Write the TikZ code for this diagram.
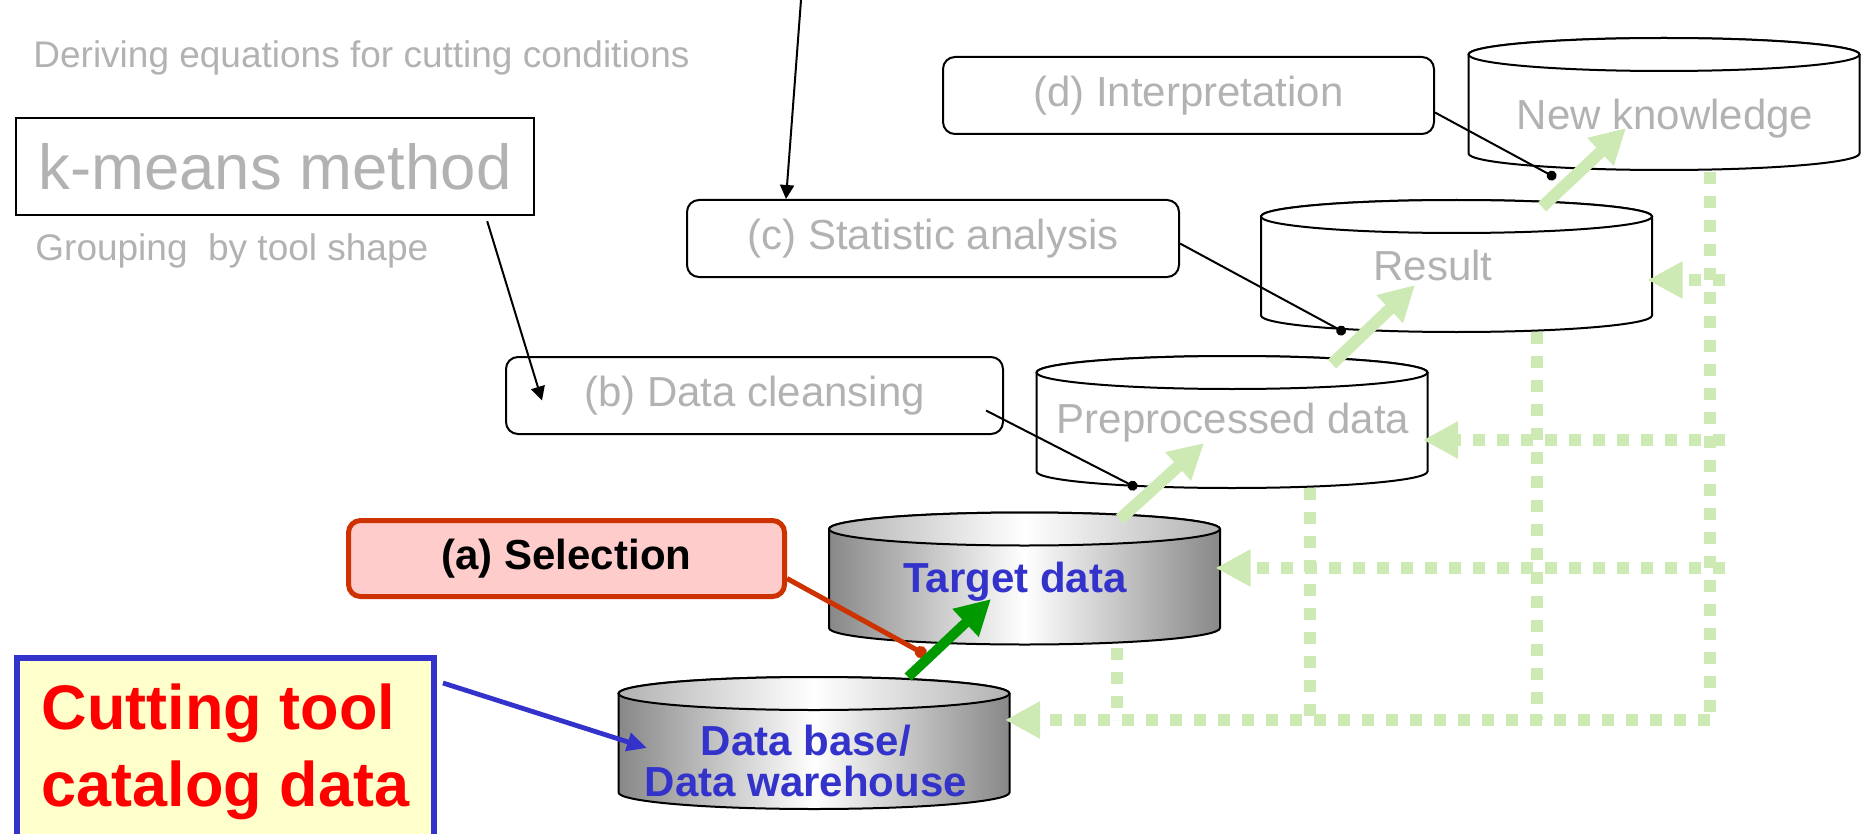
\documentclass[tikz,border=0pt]{standalone}
\usepackage{fontspec}
\setmainfont{Liberation Sans}
\definecolor{fadedgray}{RGB}{178,178,178}
\definecolor{leafgreen}{RGB}{206,234,180}
\definecolor{darkgreen}{RGB}{0,153,0}
\definecolor{rustred}{RGB}{204,51,0}
\definecolor{pinkfill}{RGB}{255,204,204}
\definecolor{inkblue}{RGB}{51,51,204}
\definecolor{creamfill}{RGB}{255,255,204}
\definecolor{cylgray}{RGB}{136,136,136}
\usetikzlibrary{arrows.meta,calc,positioning}

\begin{document}
\begin{tikzpicture}[x=0.5pt, y=-0.5pt,
    faded/.style={text=fadedgray, font=\fontsize{21}{25}\selectfont},
    stepbox/.style={faded, draw, line width=1pt, rounded corners=6pt, minimum height=38.5pt, inner sep=0pt},
    dbnode/.style={minimum width=195.5pt, minimum height=66pt, inner sep=0pt, outer sep=0pt},
    whitebody/.style={draw, line width=1pt, fill=white},
    whitelid/.style={draw, line width=1pt, fill=white},
    greybody/.style={draw, line width=1pt, left color=cylgray, right color=cylgray, middle color=white},
    greylid/.style={draw, line width=1pt, left color=cylgray!65, right color=cylgray!65, middle color=white},
    bluetext/.style={text=inkblue, font=\bfseries\fontsize{21}{20.5}\selectfont},
    pointer/.style={line width=1pt, -{Triangle[length=7pt,width=7pt]}},
    dotline/.style={line width=1pt, -{Circle[length=5pt]}},
    flow/.style={leafgreen, line width=6pt, -{Triangle[length=17.5pt,width=18pt]}},
    loopback/.style={leafgreen, line width=6pt, dash pattern=on 6pt off 6pt}]
    \useasboundingbox (0,0) rectangle (1861,834);

    % Methods on the left
    \node[faded, font=\fontsize{18.5}{22}\selectfont, anchor=base west, inner sep=0pt] (deriving) at (33,68) {Deriving equations for cutting conditions};
    \node[draw, line width=1.2pt, minimum width=259pt, minimum height=48.5pt, inner sep=0pt,
        text=fadedgray, font=\fontsize{31.75}{36}\selectfont] (kmeans) at (275,166.5) {k-means method};
    \node[faded, font=\fontsize{18.5}{22}\selectfont, anchor=base west, inner sep=0pt] (grouping) at (35,260) {Grouping\ \ by tool shape};

    % Steps
    \node[stepbox, minimum width=245.5pt] (interp) at (1188.5,95.5) {(d) Interpretation};
    \node[stepbox, minimum width=246pt] (stat) at (933,238.5) {(c) Statistic analysis};
    \node[stepbox, minimum width=248.5pt] (cleanse) at (754.5,395.5) {(b) Data cleansing};
    \node[draw=rustred, fill=pinkfill, line width=2.5pt, rounded corners=6pt, minimum width=218pt, minimum height=38pt,
        inner sep=0pt, font=\bfseries\fontsize{21}{25}\selectfont] (select) at (566.5,558.5) {(a) Selection};
    \node[draw=inkblue, fill=creamfill, line width=3pt, minimum width=208.5pt, minimum height=94pt, inner sep=0pt,
        text=red, align=left, font=\bfseries\fontsize{31.5}{38.5}\selectfont] (catalog) at (225.5,752) {Cutting tool\\catalog data};

    % Data stores
    \node[dbnode] (newknow) at (1664,104) {};
    \node[dbnode] (result) at (1456.5,266) {};
    \node[dbnode] (prep) at (1232,422) {};
    \node[dbnode] (target) at (1024.5,578.5) {};
    \node[dbnode] (dbase) at (814,743) {};
    \foreach \db/\body/\lid in {newknow/whitebody/whitelid, result/whitebody/whitelid, prep/whitebody/whitelid,
                                target/greybody/greylid, dbase/greybody/greylid} {
        \path[\body] ($(\db.north west)+(0,16.5)$) -- ($(\db.south west)+(0,-16.5)$)
            arc[start angle=180, end angle=360, x radius=97.75pt, y radius=8.25pt]
            -- ($(\db.north east)+(0,16.5)$)
            arc[start angle=0, end angle=180, x radius=97.75pt, y radius=8.25pt] -- cycle;
        \path[\lid] ($(\db.north)+(0,16.5)$) ellipse[x radius=97.75pt, y radius=8.25pt];
    }

    \node[faded] (nklabel) at (1665,119) {New knowledge};
    \node[faded] (resultlabel) at (1433,265) {Result};
    \node[faded] (preplabel) at (1233,423) {Preprocessed data};
    \node[bluetext] (targetlabel) at (1015,582) {Target data};
    \node[bluetext, align=center] (dblabel) at (806,761) {Data base/\\Data warehouse};

    % Feedback paths
    \coordinate (bus1) at (1117,720);
    \coordinate (bus2) at (1310,720);
    \coordinate (bus3) at (1537,720);
    \coordinate (bus4) at (1710,720);
    \coordinate (tap2) at (1725,568);
    \coordinate (tap3) at (1725,440);
    \coordinate (tap4) at (1725,280);
    \draw[loopback] ($(newknow)+(46,68)$) -- (bus4);
    \draw[loopback] ($(result)+(80.5,66)$) -- (bus3);
    \draw[loopback] ($(prep)+(78,66)$) -- (bus2);
    \draw[loopback] ($(target)+(92.5,69.5)$) -- (bus1);
    \draw[loopback, -{Triangle[length=17.5pt,width=17.5pt]}] (bus4) -- ($(dbase)+(191,-23)$);
    \draw[loopback, -{Triangle[length=17.5pt,width=17.5pt]}] (tap2) -- ($(target)+(191,-10.5)$);
    \draw[loopback, -{Triangle[length=17.5pt,width=17.5pt]}] (tap3) -- ($(prep)+(191,18)$);
    \draw[loopback, -{Triangle[length=17.5pt,width=17.5pt]}] (tap4) -- ($(result)+(191,14)$);

    % Step pointers
    \coordinate (topsrc) at (801,0);
    \draw[pointer] (topsrc) -- ($(stat.north west)+(100,0)$);
    \draw[pointer] ($(kmeans.south east)+(-48,5)$) -- ($(cleanse.west)+(37,5)$);
    \draw[dotline] ($(cleanse.east)+(-18,15)$) -- ($(prep)+(-95,66)$);
    \draw[dotline] ($(stat.east)+(0,5)$) -- ($(result)+(-111,67)$);
    \draw[dotline] ($(interp.east)+(0,17)$) -- ($(newknow)+(-108,74)$);
    \draw[rustred, line width=2.5pt, -{Circle[length=6pt]}] ($(select.east)+(0,20)$) -- ($(target)+(-98.5,76.5)$);
    \draw[inkblue, line width=2.4pt, -{Triangle[length=10pt,width=9pt]}] ($(catalog.north east)+(6,28)$) -- ($(dbase)+(-167,5)$);

    % Flow upwards
    \draw[darkgreen, line width=5pt, -{Triangle[length=17.5pt,width=18pt]}] ($(dbase)+(94,-66)$) -- ($(target)+(-33.5,20.5)$);
    \draw[flow] ($(target)+(95.5,-59.5)$) -- ($(prep)+(-28,21)$);
    \draw[flow] ($(prep)+(100,-58)$) -- ($(result)+(-41.5,19)$);
    \draw[flow] ($(result)+(85.5,-59)$) -- ($(newknow)+(-38,24)$);
\end{tikzpicture}
\end{document}
